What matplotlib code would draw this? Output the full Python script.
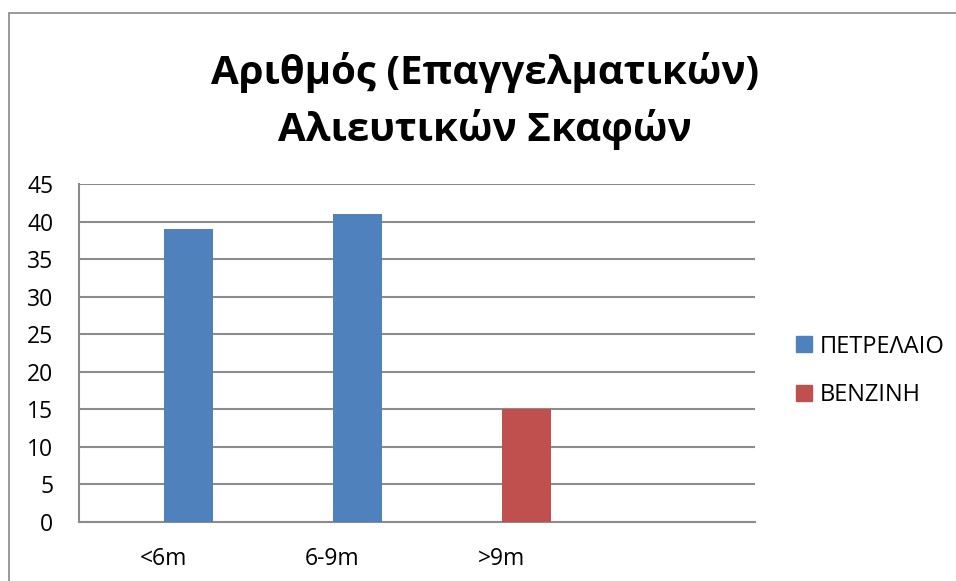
import matplotlib.pyplot as plt
from matplotlib.patches import Rectangle, Patch

plt.rcParams['font.family'] = ['Open Sans', 'DejaVu Sans']

# Vessel counts per length class
categories = ['<6m', '6-9m', '>9m', '']
diesel = [39, 41, 0, 0]
petrol = [0, 0, 15, 0]
series_names = ['ΠΕΤΡΕΛΑΙΟ', 'ΒΕΝΖΙΝΗ']
title = 'Αριθμός (Επαγγελματικών)\nΑλιευτικών Σκαφών'

blue = '#4F81BD'
red = '#C0504D'
grid = '#8C8C8C'

W, H = 956, 581
fig = plt.figure(figsize=(W / 100, H / 100), dpi=100)

# outer chart frame
fig.patches.append(Rectangle((9 / W, -0.1), 1.1, (H - 13) / H + 0.1,
                             transform=fig.transFigure, fill=False,
                             edgecolor='#888888', lw=1.2))

ax = fig.add_axes([79 / W, (H - 522) / H, 676 / W, 338 / H])

x = list(range(len(categories)))
bw = 49 / 169
ax.bar(x, diesel, width=bw, align='edge', color=blue, zorder=3)
ax.bar(x, petrol, width=bw, align='edge', color=red, zorder=3)

ax.set_xlim(-0.5, len(categories) - 0.5)
ax.set_ylim(0, 45)
ax.set_yticks(range(0, 46, 5))
ax.set_xticks(x)
ax.set_xticklabels(categories)
ax.tick_params(axis='both', length=0, labelsize=16.5, colors='black')
ax.tick_params(axis='x', pad=18)
ax.tick_params(axis='y', pad=18.5)
for lab in ax.get_yticklabels():
    lab.set_horizontalalignment('right')

ax.yaxis.grid(True, color=grid, lw=1.5, zorder=1)
for s in ['top', 'right']:
    ax.spines[s].set_visible(False)
for s in ['left', 'bottom']:
    ax.spines[s].set_color(grid)
    ax.spines[s].set_linewidth(1.5)

fig.text(485 / W, 1 - 101 / H, title, ha='center', va='center',
         fontsize=29, fontweight='bold', linespacing=1.5)

handles = [Patch(color=blue), Patch(color=red)]
fig.legend(handles, series_names, loc='center left',
           bbox_to_anchor=(775 / W, 1 - 371 / H), frameon=False,
           fontsize=17, handlelength=0.66, handleheight=0.66,
           handletextpad=0.33, labelspacing=1.05)

fig.savefig('out.png', dpi=100)
